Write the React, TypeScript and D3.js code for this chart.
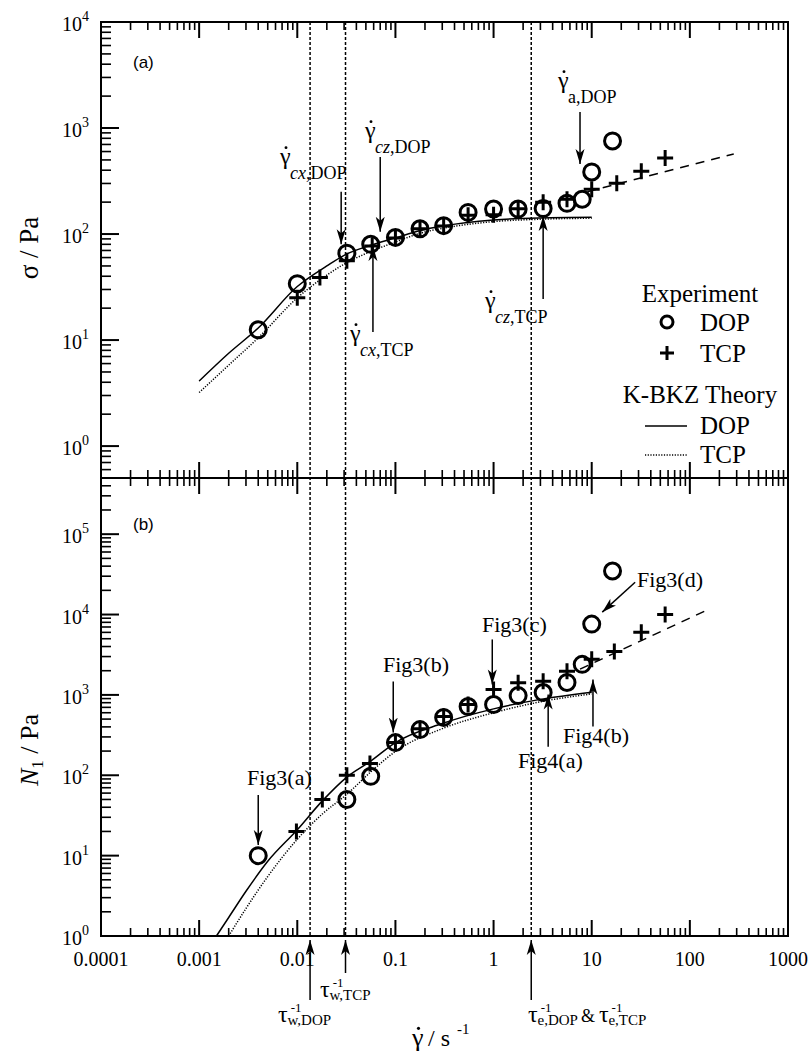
import React, { useEffect, useRef } from 'react'
import * as d3 from 'd3'

const SERIF = "'Liberation Serif', 'Times New Roman', serif"
const SANS = "'Liberation Sans', Arial, sans-serif"

// x axis: shear rate / s^-1
const xTickValues = [1e-4, 1e-3, 1e-2, 1e-1, 1, 10, 100, 1000]
const xTickLabels = ['0.0001', '0.001', '0.01', '0.1', '1', '10', '100', '1000']

// (a) shear stress, experiment
const dopRateA = [0.004, 0.01, 0.032, 0.056, 0.1, 0.178, 0.31, 0.55, 1.0, 1.78, 3.2, 5.6, 8, 10, 16.3]
const dopSigma = [12.5, 34, 66, 80, 93, 112, 120, 160, 172, 172, 174, 195, 213, 385, 755]
const tcpRateA = [0.01, 0.017, 0.032, 0.058, 0.1, 0.178, 0.31, 0.55, 1.0, 1.78, 3.2, 5.6, 10, 18, 32, 56]
const tcpSigma = [25, 39, 56, 77, 92, 112, 119, 150, 152, 173, 200, 213, 265, 302, 391, 521]

// (a) K-BKZ theory
const theoryRateA = [0.001, 0.002, 0.004, 0.01, 0.02, 0.03, 0.055, 0.1, 0.18, 0.3, 1, 3, 10]
const dopTheorySigma = [4.1, 7.5, 13, 32, 50, 63, 78, 92, 108, 119, 136, 142, 144]
const tcpTheorySigma = [3.2, 5.8, 10.5, 25, 41, 52, 68, 84, 102, 113, 131, 138, 141]
const highRateA = [9, 280]
const highSigma = [250, 570]

// (b) first normal stress difference, experiment
const dopRateB = [0.004, 0.032, 0.056, 0.1, 0.178, 0.31, 0.55, 1.0, 1.78, 3.2, 5.6, 8, 10, 16.3]
const dopN1 = [10, 50, 97, 255, 370, 525, 716, 760, 980, 1070, 1430, 2400, 7600, 34800]
const tcpRateB = [0.0098, 0.018, 0.032, 0.055, 0.1, 0.178, 0.31, 0.55, 1.0, 1.78, 3.2, 5.6, 10, 17, 32, 56]
const tcpN1 = [20, 50, 100, 140, 255, 380, 540, 760, 1170, 1420, 1480, 1970, 2770, 3470, 6000, 10000]

// (b) K-BKZ theory
const dopTheoryRateB = [0.0015, 0.002, 0.003, 0.005, 0.01, 0.018, 0.032, 0.056, 0.1, 0.3, 1, 3, 10]
const dopTheoryN1 = [1, 1.7, 3.6, 8.5, 21, 48, 95, 150, 255, 440, 670, 880, 1080]
const tcpTheoryRateB = [0.002, 0.003, 0.005, 0.01, 0.018, 0.032, 0.056, 0.1, 0.3, 1, 3, 10]
const tcpTheoryN1 = [1, 2.2, 5.5, 16, 33, 58, 110, 198, 380, 600, 820, 1030]
const highRateB = [7.6, 155]
const highN1 = [2090, 11600]

// characteristic rates (vertical dotted lines)
const markRates = [0.0135, 0.031, 2.42]

const zip = (a: number[], b: number[]) => a.map((v, i) => [v, b[i]] as [number, number])

export default function App () {
  const ref = useRef<SVGSVGElement>(null)

  useEffect(() => {
    const svg = d3.select(ref.current)
    svg.selectAll('*').remove()

    const left = 101
    const right = 788
    const top = 22
    const mid = 478
    const bottom = 936

    const x = d3.scaleLog().domain([1e-4, 1e3]).range([left, right])
    const yA = d3.scaleLog().domain([0.5, 1e4]).range([mid, top])
    const yB = d3.scaleLog().domain([1, 5e5]).range([bottom, mid])

    svg.append('rect').attr('width', 812).attr('height', 1053).attr('fill', '#fff')

    // arrowhead
    svg.append('defs').append('marker')
      .attr('id', 'ah')
      .attr('viewBox', '0 -5 15 10')
      .attr('refX', 15)
      .attr('refY', 0)
      .attr('markerUnits', 'userSpaceOnUse')
      .attr('markerWidth', 15)
      .attr('markerHeight', 10)
      .attr('orient', 'auto')
      .append('path')
      .attr('d', 'M0,-4.5L15,0L0,4.5L4,0Z')
      .attr('fill', '#000')

    const g = svg.append('g').style('font-family', SERIF)

    // minor tick positions
    const minorX: number[] = []
    for (let k = -4; k < 3; k++) for (let m = 2; m <= 9; m++) minorX.push(m * Math.pow(10, k))

    const drawXTicks = (y0: number, up: number, down: number) => {
      xTickValues.forEach((v) => {
        g.append('line').attr('x1', x(v)).attr('x2', x(v))
          .attr('y1', y0 - up * 16).attr('y2', y0 + down * 16)
          .attr('stroke', '#000').attr('stroke-width', 2)
      })
      minorX.forEach((v) => {
        g.append('line').attr('x1', x(v)).attr('x2', x(v))
          .attr('y1', y0 - up * 8).attr('y2', y0 + down * 8)
          .attr('stroke', '#000').attr('stroke-width', 1.6)
      })
    }

    const drawYTicks = (y: d3.ScaleLogarithmic<number, number>, lo: number, hi: number) => {
      const [d0, d1] = y.domain()
      for (let k = lo; k <= hi; k++) {
        const base = Math.pow(10, k)
        if (base >= d0 && base <= d1) {
          g.append('line').attr('x1', left).attr('x2', left + 18)
            .attr('y1', y(base)).attr('y2', y(base))
            .attr('stroke', '#000').attr('stroke-width', 2)
          const t = g.append('text').attr('x', left - 39).attr('y', y(base) + 9)
            .style('font-size', '20px')
          t.append('tspan').text('10')
          t.append('tspan').attr('dy', -10).style('font-size', '14px').text(String(k))
        }
        for (let m = 2; m <= 9; m++) {
          const v = m * base
          if (v >= d0 - 1e-9 && v <= d1 * 1.0001) {
            g.append('line').attr('x1', left).attr('x2', left + 10)
              .attr('y1', y(v)).attr('y2', y(v))
              .attr('stroke', '#000').attr('stroke-width', 1.6)
          }
        }
      }
    }

    drawYTicks(yA, -1, 4)
    drawYTicks(yB, 0, 5)
    drawXTicks(top, 0, 1)
    drawXTicks(mid, 1, 1)
    drawXTicks(bottom, 1, 0)

    // frame
    g.append('rect').attr('x', left).attr('y', top)
      .attr('width', right - left).attr('height', bottom - top)
      .attr('fill', 'none').attr('stroke', '#000').attr('stroke-width', 2)
    g.append('line').attr('x1', left).attr('x2', right).attr('y1', mid).attr('y2', mid)
      .attr('stroke', '#000').attr('stroke-width', 2)

    // x tick labels
    xTickValues.forEach((v, i) => {
      g.append('text').attr('x', x(v)).attr('y', 966)
        .attr('text-anchor', 'middle')
        .style('font-size', '20px')
        .text(xTickLabels[i])
    })

    // characteristic-rate dotted lines
    markRates.forEach((v) => {
      g.append('line').attr('x1', x(v)).attr('x2', x(v))
        .attr('y1', top).attr('y2', bottom)
        .attr('stroke', '#000').attr('stroke-width', 1.5)
        .attr('stroke-dasharray', '3,2')
    })

    const drawCurve = (pts: [number, number][], y: d3.ScaleLogarithmic<number, number>, dash: string | null) => {
      const line = d3.line<[number, number]>()
        .x((d) => x(d[0]))
        .y((d) => y(d[1]))
        .curve(d3.curveMonotoneX)
      const p = g.append('path').attr('d', line(pts))
        .attr('fill', 'none').attr('stroke', '#000').attr('stroke-width', 1.5)
      if (dash) p.attr('stroke-dasharray', dash)
    }

    const drawCircles = (pts: [number, number][], y: d3.ScaleLogarithmic<number, number>) => {
      g.selectAll(null).data(pts).enter().append('circle')
        .attr('cx', (d) => x(d[0])).attr('cy', (d) => y(d[1])).attr('r', 8)
        .attr('fill', 'none').attr('stroke', '#000').attr('stroke-width', 3)
    }

    const crossPath = (cx: number, cy: number, s: number) =>
      `M${cx - s},${cy}H${cx + s}M${cx},${cy - s}V${cy + s}`

    const drawCrosses = (pts: [number, number][], y: d3.ScaleLogarithmic<number, number>) => {
      g.selectAll(null).data(pts).enter().append('path')
        .attr('d', (d) => crossPath(x(d[0]), y(d[1]), 8))
        .attr('fill', 'none').attr('stroke', '#000').attr('stroke-width', 3)
    }

    // panel (a)
    drawCurve(zip(theoryRateA, dopTheorySigma), yA, null)
    drawCurve(zip(theoryRateA, tcpTheorySigma), yA, '1.2,1.5')
    drawCurve(zip(highRateA, highSigma), yA, '9,7')
    drawCircles(zip(dopRateA, dopSigma), yA)
    drawCrosses(zip(tcpRateA, tcpSigma), yA)

    // panel (b)
    drawCurve(zip(dopTheoryRateB, dopTheoryN1), yB, null)
    drawCurve(zip(tcpTheoryRateB, tcpTheoryN1), yB, '1.2,1.5')
    drawCurve(zip(highRateB, highN1), yB, '9,7')
    drawCircles(zip(dopRateB, dopN1), yB)
    drawCrosses(zip(tcpRateB, tcpN1), yB)

    // arrows
    const arrow = (x1: number, y1: number, x2: number, y2: number) => {
      g.append('line').attr('x1', x1).attr('y1', y1).attr('x2', x2).attr('y2', y2)
        .attr('stroke', '#000').attr('stroke-width', 1.5)
        .attr('marker-end', 'url(#ah)')
    }
    const dataArrow = (y: d3.ScaleLogarithmic<number, number>, a: [number, number], b: [number, number]) =>
      arrow(x(a[0]), y(a[1]), x(b[0]), y(b[1]))

    dataArrow(yA, [0.028, 250], [0.028, 80])
    dataArrow(yA, [0.07, 532], [0.07, 105])
    dataArrow(yA, [0.059, 11.9], [0.059, 77])
    dataArrow(yA, [3.2, 24.4], [3.2, 148])
    dataArrow(yA, [7.6, 1413], [7.6, 457])

    dataArrow(yB, [0.004, 57], [0.004, 13.6])
    dataArrow(yB, [0.095, 1470], [0.095, 340])
    dataArrow(yB, [0.97, 4900], [0.97, 1350])
    dataArrow(yB, [27.7, 25200], [12.8, 10700])
    dataArrow(yB, [3.6, 227], [3.6, 1010])
    dataArrow(yB, [10.3, 404], [10.3, 1550])

    // arrows below the x axis
    arrow(x(markRates[0]), 1000, x(markRates[0]), 940)
    arrow(x(markRates[1]), 973, x(markRates[1]), 940)
    arrow(x(markRates[2]), 1000, x(markRates[2]), 940)

    // gamma-dot labels
    const gammaDot = (gx: number, gy: number, size: number) => {
      g.append('text').attr('x', gx).attr('y', gy)
        .style('font-size', size + 'px').text('γ')
      g.append('circle').attr('cx', gx + size * 0.25).attr('cy', gy - size * 0.68)
        .attr('r', size * 0.06).attr('fill', '#000')
    }
    const gammaLabel = (gx: number, gy: number, italicPart: string, rest: string) => {
      gammaDot(gx, gy, 24)
      const t = g.append('text').attr('x', gx + 10).attr('y', gy + 15)
        .style('font-size', '18px')
      t.append('tspan').style('font-style', 'italic').text(italicPart)
      t.append('tspan').text(rest)
    }
    gammaLabel(280, 164, 'cx', ',DOP')
    gammaLabel(365, 138, 'cz', ',DOP')
    gammaLabel(350, 341, 'cx', ',TCP')
    gammaLabel(485, 308, 'cz', ',TCP')
    gammaLabel(558, 88, '', 'a,DOP')

    // Fig labels
    const figLabel = (fx: number, fy: number, s: string) => {
      g.append('text').attr('x', fx).attr('y', fy)
        .style('font-size', '22px').text(s)
    }
    figLabel(247, 785, 'Fig3(a)')
    figLabel(383, 672, 'Fig3(b)')
    figLabel(482, 632, 'Fig3(c)')
    figLabel(637, 587, 'Fig3(d)')
    figLabel(518, 768, 'Fig4(a)')
    figLabel(563, 743, 'Fig4(b)')

    // panel letters
    g.append('text').attr('x', 133).attr('y', 68)
      .style('font-family', SANS).style('font-size', '17px').text('(a)')
    g.append('text').attr('x', 133).attr('y', 530)
      .style('font-family', SANS).style('font-size', '17px').text('(b)')

    // tau labels below the axis: tau with stacked -1 and subscript, one text each
    const tauParts = (t: d3.Selection<SVGTextElement, unknown, null, undefined>, sub: string) => {
      t.append('tspan').style('font-size', '24px').text('τ')
      t.append('tspan').attr('dx', 3).attr('dy', -10).style('font-size', '13px').text('-1')
      t.append('tspan').attr('dx', -14).attr('dy', 13).style('font-size', '15px').text(sub)
    }
    const tauText = (tx: number, ty: number) =>
      g.append('text').attr('x', tx).attr('y', ty) as unknown as d3.Selection<SVGTextElement, unknown, null, undefined>

    tauParts(tauText(278, 1022), 'w,DOP')
    tauParts(tauText(320, 997), 'w,TCP')
    const te = tauText(528, 1022)
    tauParts(te, 'e,DOP')
    te.append('tspan').attr('dx', 3).attr('dy', -3).style('font-size', '18px').text('&')
    te.append('tspan').attr('dx', 4).style('font-size', '24px').text('τ')
    te.append('tspan').attr('dx', 3).attr('dy', -10).style('font-size', '13px').text('-1')
    te.append('tspan').attr('dx', -14).attr('dy', 13).style('font-size', '15px').text('e,TCP')

    // axis titles
    gammaDot(412, 1046, 26)
    g.append('text').attr('x', 428).attr('y', 1046)
      .style('font-size', '24px').text('/ s')
    g.append('text').attr('x', 457).attr('y', 1034)
      .style('font-size', '15px').text('-1')

    g.append('text')
      .attr('transform', 'translate(38,248) rotate(-90)')
      .attr('text-anchor', 'middle')
      .style('font-size', '27px')
      .text('σ / Pa')

    const n1 = g.append('text')
      .attr('transform', 'translate(38,750) rotate(-90)')
      .attr('text-anchor', 'middle')
      .style('font-size', '26px')
    n1.append('tspan').style('font-style', 'italic').text('N')
    n1.append('tspan').attr('dy', 5).style('font-size', '17px').text('1')
    n1.append('tspan').attr('dy', -5).text(' / Pa')

    // legend
    const legText = (lx: number, ly: number, s: string, anchor: string) => {
      g.append('text').attr('x', lx).attr('y', ly).attr('text-anchor', anchor)
        .style('font-size', '25px').text(s)
    }
    legText(700, 302, 'Experiment', 'middle')
    g.append('circle').attr('cx', 667).attr('cy', 322).attr('r', 6)
      .attr('fill', 'none').attr('stroke', '#000').attr('stroke-width', 3)
    legText(700, 331, 'DOP', 'start')
    g.append('path').attr('d', crossPath(667, 353, 7))
      .attr('stroke', '#000').attr('stroke-width', 3)
    legText(700, 362, 'TCP', 'start')
    legText(700, 403, 'K-BKZ Theory', 'middle')
    g.append('line').attr('x1', 645).attr('x2', 687).attr('y1', 426).attr('y2', 426)
      .attr('stroke', '#000').attr('stroke-width', 1.5)
    legText(700, 434, 'DOP', 'start')
    g.append('line').attr('x1', 645).attr('x2', 687).attr('y1', 455).attr('y2', 455)
      .attr('stroke', '#000').attr('stroke-width', 1.5).attr('stroke-dasharray', '1.2,1.5')
    legText(700, 463, 'TCP', 'start')
  }, [])

  return (
    <svg
      ref={ref}
      width={812}
      height={1053}
      style={{ position: 'absolute', left: 0, top: 0 }}
    />
  )
}
